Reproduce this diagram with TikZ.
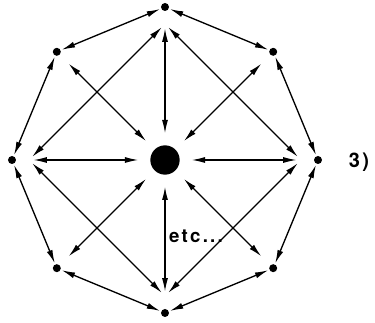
\documentclass[tikz,border=0pt]{standalone}
\usepackage{fontspec}
\newfontfamily\tagfont{TeX Gyre Heros}[LetterSpace=12]
\usetikzlibrary{arrows.meta}

\begin{document}
\begin{tikzpicture}[x=0.75pt,y=0.75pt,line width=1pt,
  >={Latex[length=10pt,width=4.5pt]},
  dot/.style={circle,fill,inner sep=0pt,minimum size=6pt,outer sep=1pt},
  corner/.style={circle,inner sep=2pt},
  hub/.style={circle,fill,inner sep=0pt,minimum size=22pt},
  tag/.style={font=\tagfont\bfseries\fontsize{14}{16}\selectfont}]
  \useasboundingbox (-165,-163) rectangle (210,160);
  \node[hub] (c) at (0,0) {};
  \foreach \i in {0,...,7}{
    \node[dot] (o\i) at (\i*45:153) {};
  }
  \foreach \i in {0,...,3}{
    \node[corner] (d\i) at (\i*90:136) {};
  }
  % octagon and diamond
  \foreach \a/\b in {0/1,1/2,2/3,3/4,4/5,5/6,6/7,7/0}{
    \draw[<->] (o\a) -- (o\b);
  }
  \foreach \a/\b in {0/1,1/2,2/3,3/0}{
    \draw[<->] (d\a) -- (d\b);
  }
  % spokes
  \foreach \i in {0,...,3}{
    \draw[<->,shorten <=8.5pt] (c) -- (d\i);
  }
  \foreach \i in {1,3,5,7}{
    \draw[<->,shorten <=8.5pt,shorten >=8.5pt] (c) -- (o\i);
  }
  \node[tag] (etc) at (31,-76) {etc...};
  \node[tag,font=\tagfont\bfseries\fontsize{15}{17}\selectfont] (num) at (194,-2) {3)};
\end{tikzpicture}
\end{document}
